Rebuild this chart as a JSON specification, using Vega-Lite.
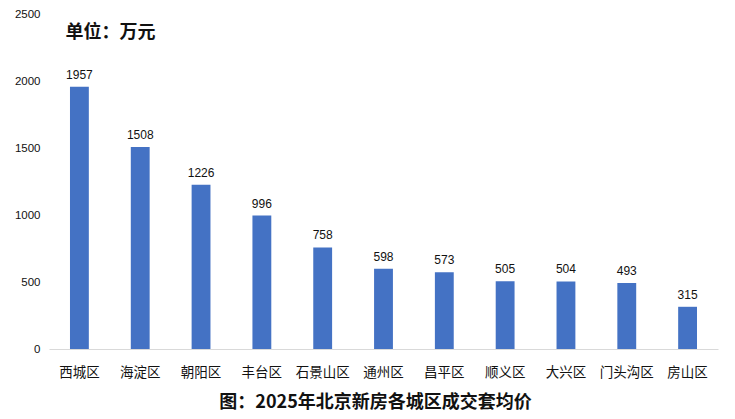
{
  "$schema": "https://vega.github.io/schema/vega-lite/v6.json",
  "width": 669,
  "height": 335,
  "autosize": {"type": "none"},
  "padding": {"left": 49, "top": 14, "right": 17, "bottom": 70},
  "background": "white",
  "data": {
    "values": [
      {"district": "西城区", "price": 1957},
      {"district": "海淀区", "price": 1508},
      {"district": "朝阳区", "price": 1226},
      {"district": "丰台区", "price": 996},
      {"district": "石景山区", "price": 758},
      {"district": "通州区", "price": 598},
      {"district": "昌平区", "price": 573},
      {"district": "顺义区", "price": 505},
      {"district": "大兴区", "price": 504},
      {"district": "门头沟区", "price": 493},
      {"district": "房山区", "price": 315}
    ]
  },
  "config": {
    "view": {"stroke": null},
    "axis": {"grid": false}
  },
  "encoding": {
    "x": {
      "field": "district",
      "type": "nominal",
      "sort": null,
      "scale": {"paddingInner": 0.69, "paddingOuter": 0.345},
      "axis": {
        "title": "图：2025年北京新房各城区成交套均价",
        "titleFont": "Noto Sans CJK SC",
        "titleFontSize": 18,
        "titleFontWeight": "bold",
        "titleColor": "#111111",
        "titleX": 326,
        "titleY": 53,
        "titleAnchor": "middle",
        "titleAlign": "center",
        "titleBaseline": "middle",
        "labelAngle": 0,
        "labelFont": "Noto Sans CJK SC",
        "labelFontSize": 13.5,
        "labelColor": "#111111",
        "labelPadding": 16,
        "ticks": false,
        "domainColor": "#d9d9d9",
        "domainWidth": 1
      }
    },
    "y": {
      "field": "price",
      "type": "quantitative",
      "scale": {"domain": [0, 2500]},
      "axis": {
        "values": [0, 500, 1000, 1500, 2000, 2500],
        "format": "d",
        "title": "单位：万元",
        "titleFont": "Noto Sans CJK SC",
        "titleFontSize": 18,
        "titleFontWeight": "bold",
        "titleColor": "#111111",
        "titleAngle": 0,
        "titleX": 16,
        "titleY": 18,
        "titleAlign": "left",
        "titleBaseline": "middle",
        "labelFont": "Liberation Sans",
        "labelFontSize": 11.5,
        "labelColor": "#111111",
        "labelPadding": 9,
        "ticks": false,
        "domain": false
      }
    }
  },
  "layer": [
    {"mark": {"type": "bar", "color": "#4472C4"}},
    {
      "mark": {"type": "text", "baseline": "bottom", "dy": -5, "font": "Liberation Sans", "fontSize": 12, "color": "#111111"},
      "encoding": {"text": {"field": "price", "type": "quantitative"}}
    }
  ]
}
